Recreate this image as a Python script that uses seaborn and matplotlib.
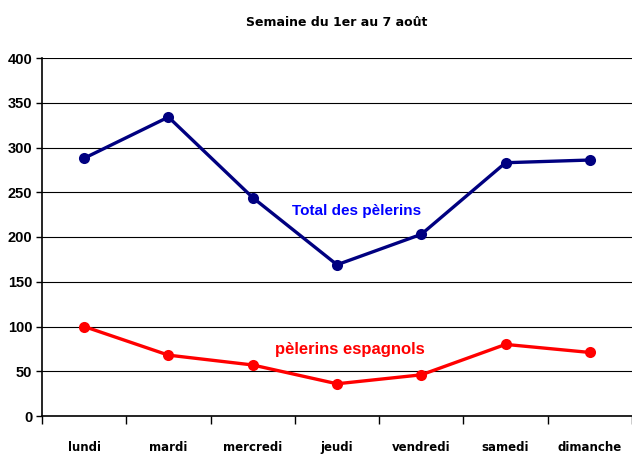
import matplotlib
matplotlib.use("Agg")
import matplotlib.pyplot as plt
import seaborn as sns
import pandas as pd
import numpy as np

days = ["lundi", "mardi", "mercredi", "jeudi", "vendredi", "samedi", "dimanche"]
total = [288, 334, 244, 169, 203, 283, 286]
espagnols = [100, 68, 57, 36, 46, 80, 71]
yticks = [0, 50, 100, 150, 200, 250, 300, 350, 400]

sns.set_theme(style="white")
plt.rcParams['font.family'] = ['Liberation Sans', 'DejaVu Sans']
plt.rcParams['text.color'] = 'black'
plt.rcParams['xtick.color'] = 'black'
plt.rcParams['ytick.color'] = 'black'

df = pd.DataFrame({
    "pos": list(range(len(days))) * 2,
    "value": total + espagnols,
    "serie": ["Total des pèlerins"] * len(days) + ["pèlerins espagnols"] * len(days),
})

fig = plt.figure(figsize=(6.32, 4.54), dpi=100)
ax = fig.add_axes([42/632, 1 - 416/454, 1 - 42/632, (416 - 58)/454])

sns.lineplot(data=df, x="pos", y="value", hue="serie",
             palette={"Total des pèlerins": "#000080", "pèlerins espagnols": "#FF0000"},
             marker="o", markersize=8, markeredgewidth=0, linewidth=2.4,
             legend=False, ax=ax)

ax.set_xlim(-0.5, len(days) - 0.5)
ax.set_ylim(0, 400)
ax.set_yticks(yticks)
ax.set_yticklabels([str(v) for v in yticks], fontsize=10.5, fontweight="bold")
ax.yaxis.grid(True, color="black", linewidth=0.8)
ax.set_axisbelow(True)

ax.set_xticks(np.arange(-0.5, len(days), 1.0))
ax.set_xticklabels([])
ax.set_xticks(range(len(days)), minor=True)
ax.set_xticklabels(days, minor=True, fontsize=8.5, fontweight="bold",
                   family=["DejaVu Sans"])
ax.tick_params(axis="x", which="major", direction="out", length=6, width=1, color="black", bottom=True)
ax.tick_params(axis="x", which="minor", length=0, pad=18)
ax.tick_params(axis="y", direction="out", length=4, width=1, color="black", left=True, pad=3)

ax.set_xlabel("")
ax.set_ylabel("")
for s in ["top", "right"]:
    ax.spines[s].set_visible(False)
for s in ["left", "bottom"]:
    ax.spines[s].set_color("black")
    ax.spines[s].set_linewidth(1.2)

ax.text(3.23, 229, "Total des pèlerins", color="#0000FF", fontsize=11,
        fontweight="bold", ha="center", va="center")
ax.text(3.15, 74, "pèlerins espagnols", color="#FF0000", fontsize=12,
        fontweight="bold", ha="center", va="center")

fig.text(337/632, 1 - 22/454, "Semaine du 1er au 7 août", ha="center", va="center",
         fontsize=9, fontweight="bold", family=["DejaVu Sans"])

fig.savefig("out.png", dpi=100)
